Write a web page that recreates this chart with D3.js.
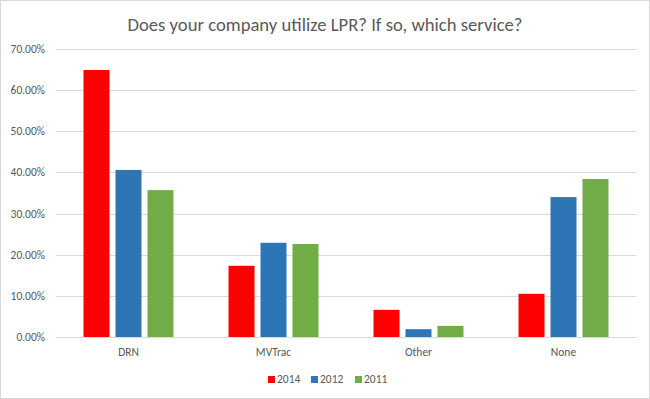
<!DOCTYPE html>
<html>
<head>
<meta charset="utf-8">
<script src="https://cdn.jsdelivr.net/npm/d3@7"></script>
<style>
body { margin: 0; background: #fff; }
text { font-family: Calibri, Carlito, Lato, "Open Sans", sans-serif; fill: #595959; }
</style>
</head>
<body>
<svg id="chart" width="650" height="399"></svg>
<script>
// data
var categories = ["DRN", "MVTrac", "Other", "None"];
var years = ["2014", "2012", "2011"];
var values2014 = [64.9, 17.3, 6.6, 10.5];
var values2012 = [40.6, 22.9, 1.9, 34.0];
var values2011 = [35.7, 22.6, 2.7, 38.4];
var tickValues = [0, 10, 20, 30, 40, 50, 60, 70];
var colors = ["#ff0000", "#2e75b6", "#70ad47"];

var series = [values2014, values2012, values2011];
var rows = categories.map(function(c, i) {
	return { cat: c, vals: years.map(function(y, j) { return { year: y, v: series[j][i], k: j } }) }
});

var svg = d3.select("#chart");

svg.append("rect")
	.attr("x", 0.5).attr("y", 0.5)
	.attr("width", 649).attr("height", 398)
	.attr("fill", "#fff")
	.attr("stroke", "#d9d9d9")

svg.append("text")
	.attr("x", 325).attr("y", 31)
	.attr("text-anchor", "middle")
	.style("font-size", "18.5px")
	.attr("textLength", 395)
	.attr("lengthAdjust", "spacingAndGlyphs")
	.text("Does your company utilize LPR? If so, which service?")

var x0 = d3.scaleBand().domain(categories).range([56, 636]).paddingInner(0);
var x1 = d3.scaleBand().domain(years).range([0, x0.bandwidth()]).paddingInner(0.1875).paddingOuter(0.86);
var y = d3.scaleLinear().domain([0, 70]).range([337, 49]);

// gridlines
svg.append("g").selectAll("line").data(tickValues).enter().append("line")
	.attr("x1", 56).attr("x2", 636)
	.attr("y1", function(d) { return Math.round(y(d)) + 0.5 })
	.attr("y2", function(d) { return Math.round(y(d)) + 0.5 })
	.attr("stroke", "#d9d9d9")
	.attr("stroke-width", 1)

// y labels
svg.append("g").selectAll("text").data(tickValues).enter().append("text")
	.attr("x", 45)
	.attr("y", function(d) { return y(d) })
	.attr("dy", "0.35em")
	.attr("text-anchor", "end")
	.style("font-size", "11.5px")
	.text(function(d) { return d.toFixed(2) + "%" })

// bars
var grp = svg.append("g").selectAll("g").data(rows).enter().append("g")
	.attr("transform", function(d) { return "translate(" + x0(d.cat) + ",0)" })

grp.selectAll("rect").data(function(d) { return d.vals }).enter().append("rect")
	.attr("x", function(d) { return x1(d.year) })
	.attr("width", x1.bandwidth())
	.attr("y", function(d) { return y(d.v) })
	.attr("height", function(d) { return y(0) - y(d.v) })
	.attr("fill", function(d) { return colors[d.k] })

// category labels
svg.append("g").selectAll("text").data(categories).enter().append("text")
	.attr("x", function(d) { return x0(d) + x0.bandwidth() / 2 })
	.attr("y", 356)
	.attr("text-anchor", "middle")
	.style("font-size", "11.5px")
	.text(function(d) { return d })

// legend
var lgX = [268, 311, 355];
var lg = svg.append("g").selectAll("g").data(years).enter().append("g")
	.attr("transform", function(d, i) { return "translate(" + lgX[i] + ",0)" })
lg.append("rect")
	.attr("x", 0).attr("y", 376)
	.attr("width", 7).attr("height", 7)
	.attr("fill", function(d, i) { return colors[i] })
lg.append("text")
	.attr("x", 9).attr("y", 383)
	.style("font-size", "11.5px")
	.text(function(d) { return d })
</script>
</body>
</html>
